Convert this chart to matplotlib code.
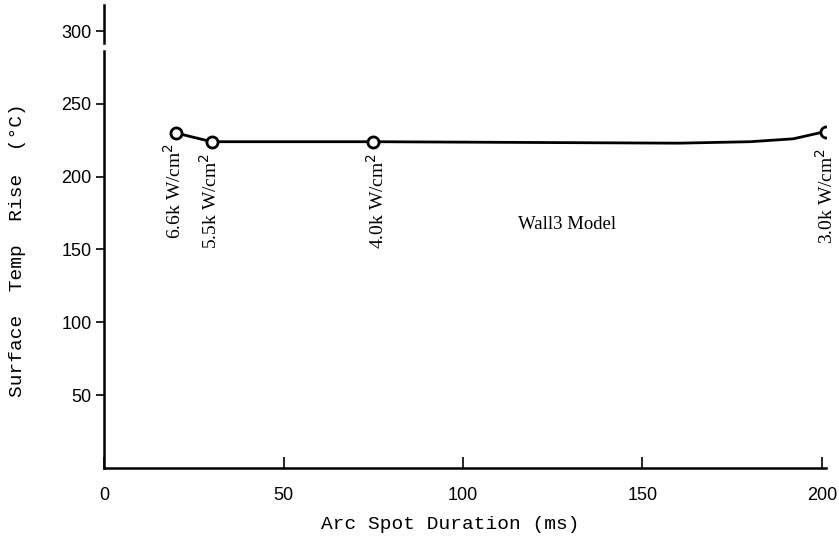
import matplotlib.pyplot as plt
import matplotlib.transforms as mtransforms

# Arc spot duration (ms) vs surface temperature rise (C)
duration = [20, 30, 75, 160, 180, 192, 201]
temp_rise = [230, 224, 224, 223, 224, 226, 231]

# measured points (marked with open circles)
pt_duration = [20, 30, 75, 201]
pt_temp = [230, 224, 224, 231]
pt_labels = ["6.6k W/cm$^2$", "5.5k W/cm$^2$", "4.0k W/cm$^2$", "3.0k W/cm$^2$"]
label_x = [19.5, 29.5, 76, 201]
label_top = [223, 216, 216, 220]

fig = plt.figure(figsize=(8.39, 5.39), dpi=100)
ax = fig.add_axes([0.124, 0.132, 0.86, 0.859])

ax.plot(duration, temp_rise, color='black', lw=2.0, zorder=2)
ax.plot(pt_duration, pt_temp, 'o', ms=8, mfc='white', mec='black', mew=2.0, zorder=3)

serif = 'Liberation Serif'
for x, y, s in zip(label_x, label_top, pt_labels):
    ax.text(x, y, s, rotation=90, ha='center', va='top', fontsize=14, family=serif)

ax.text(129, 167, "Wall3 Model", ha='center', va='center', fontsize=13.5, family=serif)

ax.set_xlim(0, 201)
ax.set_ylim(0, 318)
ax.set_xticks([0, 50, 100, 150, 200])
ax.set_yticks([50, 100, 150, 200, 250, 300])
ax.tick_params(axis='x', direction='in', length=8, width=1.2, pad=14, labelsize=13)
ax.tick_params(axis='y', direction='out', length=6, width=1.2, pad=3, labelsize=13)
for lab in ax.get_xticklabels() + ax.get_yticklabels():
    lab.set_family('Liberation Sans')

for side in ['top', 'right', 'left']:
    ax.spines[side].set_visible(False)
ax.spines['bottom'].set_linewidth(1.8)

# left axis drawn by hand with a break just below 300
trans = mtransforms.blended_transform_factory(ax.transAxes, ax.transData)
ax.plot([0, 0], [0, 286], color='black', lw=1.8, transform=trans, clip_on=False)
ax.plot([0, 0], [292, 318], color='black', lw=1.8, transform=trans, clip_on=False)

ax.set_xlabel("Arc Spot Duration (ms)", family='Liberation Mono', fontsize=14)
ax.set_ylabel("Surface  Temp  Rise  (°C)", family='Liberation Mono', fontsize=14)
ax.xaxis.set_label_coords(0.48, -0.104)
ax.yaxis.set_label_coords(-0.108, 0.47)

fig.savefig('out.png', dpi=100)
